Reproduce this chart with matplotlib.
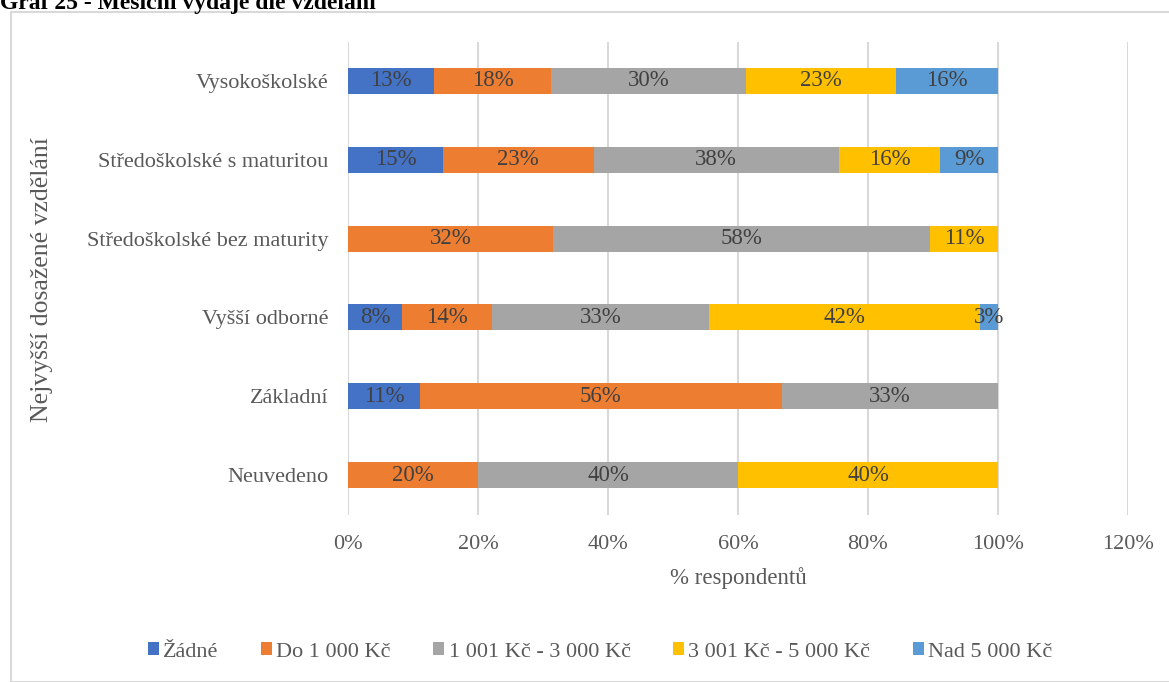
import matplotlib.pyplot as plt
from matplotlib.patches import Rectangle
import numpy as np

plt.rcParams['font.family'] = ['Liberation Serif', 'DejaVu Serif']

categories = ['Neuvedeno', 'Základní', 'Vyšší odborné',
              'Středoškolské bez maturity', 'Středoškolské s maturitou',
              'Vysokoškolské']
series = ['Žádné', 'Do 1 000 Kč', '1 001 Kč - 3 000 Kč',
          '3 001 Kč - 5 000 Kč', 'Nad 5 000 Kč']
colors = ['#4472C4', '#ED7D31', '#A5A5A5', '#FFC000', '#5B9BD5']

# share of respondents in %, one list per series (same order as categories)
zadne = [0.0, 11.1, 8.3, 0.0, 14.6, 13.2]
do_1000 = [20.0, 55.6, 13.9, 31.6, 23.2, 18.1]
do_3000 = [40.0, 33.3, 33.3, 57.9, 37.7, 29.9]
do_5000 = [40.0, 0.0, 41.7, 10.5, 15.6, 23.1]
nad_5000 = [0.0, 0.0, 2.8, 0.0, 8.9, 15.7]
values = [zadne, do_1000, do_3000, do_5000, nad_5000]

xticks = [0, 20, 40, 60, 80, 100, 120]

fig = plt.figure(figsize=(11.69, 6.82), dpi=100)
ax = fig.add_axes([348 / 1169, 1 - 514.5 / 682, 780 / 1169, 473 / 682])

y = np.arange(len(categories))
left = np.zeros(len(categories))
for name, vals, col in zip(series, values, colors):
    vals = np.array(vals)
    ax.barh(y, vals, left=left, height=0.33, color=col, label=name, zorder=3)
    for yi, l, v in zip(y, left, vals):
        if v > 0:
            ax.text(l + v / 2, yi, f'{int(v + 0.5)}%', ha='center', va='center',
                    fontsize=16.5, color='#404040', zorder=4)
    left += vals

ax.set_xlim(0, 120)
ax.set_ylim(-0.5, len(categories) - 0.5)
ax.set_xticks(xticks)
ax.set_xticklabels([f'{t}%' for t in xticks])
ax.set_yticks(y)
ax.set_yticklabels(categories)
ax.grid(axis='x', color='#D9D9D9', linewidth=1.5, zorder=0)
for s in ax.spines.values():
    s.set_visible(False)
ax.tick_params(length=0, labelsize=16, labelcolor='#595959')
ax.tick_params(axis='x', pad=15)
ax.tick_params(axis='y', pad=14)

ax.set_xlabel('% respondentů', fontsize=16.5, color='#595959', labelpad=9)
fig.text(42 / 1169, 1 - 280 / 682, 'Nejvyšší dosažené vzdělání', rotation=90,
         ha='center', va='center', fontsize=18.5, color='#595959')

ax.legend(loc='center', bbox_to_anchor=(600 / 1169, 1 - 652 / 682),
          bbox_transform=fig.transFigure, ncol=5, frameon=False,
          fontsize=16, labelcolor='#595959', handlelength=0.5,
          handleheight=0.5, handletextpad=0.2, columnspacing=1.9)

# outer chart border
fig.patches.append(Rectangle((11 / 1169, 0), 1.2, 1 - 12 / 682,
                             transform=fig.transFigure, fill=False,
                             edgecolor='#D9D9D9', linewidth=1.5))

fig.text(0.0, 1 - 4 / 682, 'Graf 25 - Měsíční výdaje dle vzdělání',
         ha='left', va='center', fontsize=17, fontweight='bold')

fig.savefig('out.png', dpi=100)
